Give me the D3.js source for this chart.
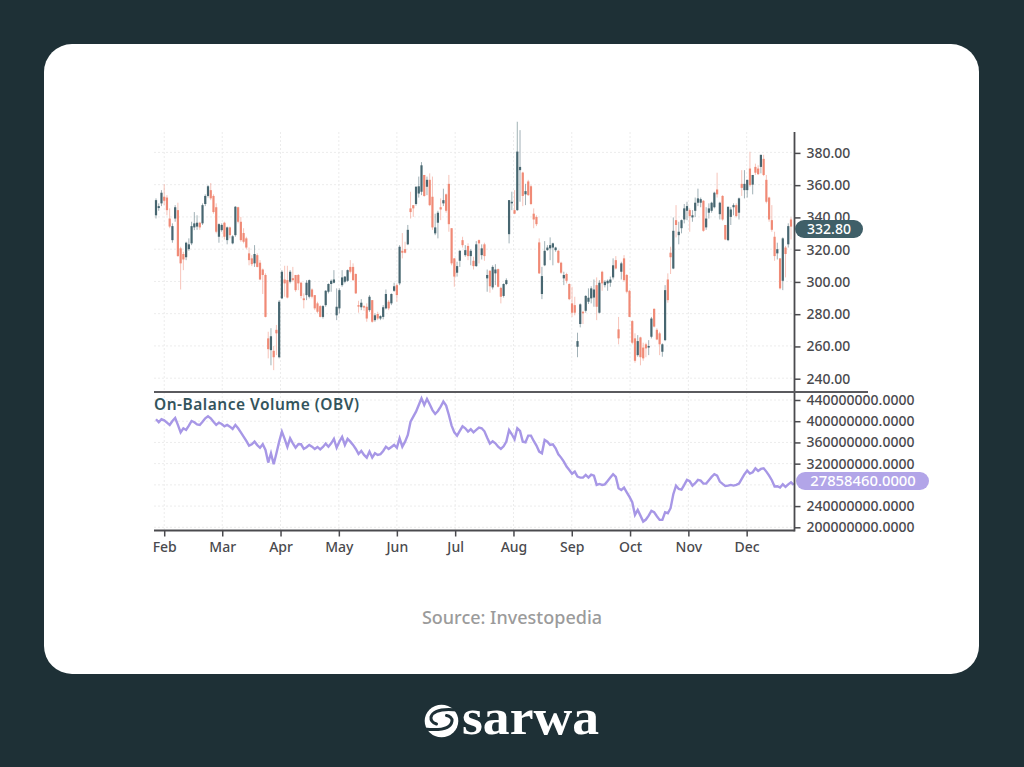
<!DOCTYPE html>
<html>
<head>
<meta charset="utf-8">
<script src="https://cdn.jsdelivr.net/npm/d3@7"></script>
<style>
    html, body { margin: 0; padding: 0; background: #1e3036; }
    svg { display: block; }
    text { font-family: "Noto Sans", sans-serif; }
</style>
</head>
<body>
<div id="chart"></div>
<script>
const highs = [
    351.5,348.4,356.6,360.3,353.5,345.3,336,347.3,348.8,321.5,
    318.4,324.6,326.7,337,343,341,337,348.4,354,359.7,
    361,354,348.4,336,336,337,334,334,328.7,346.7,
    346.3,340,333,327.7,321,316.3,322.5,317.4,313.2,308,
    305,268.8,271,260,273,288.4,307,309.7,309.7,307,
    309,304,304.6,299.8,292.6,300.8,301.2,295.7,291.5,287.4,
    285.3,285.3,294.6,298.8,301.2,307,295.7,295.7,307,303.3,
    307.4,313.2,311.2,305,288,289,285.3,286.4,291.5,288.4,
    280.2,281.2,279,285.3,295,288.4,292.6,299.2,298.8,322.5,
    330,324.6,335,355.6,347.3,359,365,374,366,365,
    367,365,342,343.8,351.5,357.5,354.5,366,333,314.3,
    312.2,319.4,327.7,322.5,323.6,320,315.3,325,326,323,
    324,307.4,307,310,310.7,308,296.7,298.8,301.9,350.4,
    355.6,356.6,399,393.8,368,360.5,363,359.7,345.3,341,
    326.7,309,325,322.5,327.3,324,321.5,319.4,312.2,306,
    305.4,298.8,296.7,290.5,268.2,286.4,281.8,291.5,295.7,297,
    301.2,302.5,300.8,306.6,300.8,301.2,303,314.3,315.7,278,
    312.2,316.3,304.6,294.6,276,267.8,266.7,265.7,262,262,
    263.6,278,283.3,271,268.8,261.6,297.7,305,321.5,339.7,
    347.3,337,338.4,348,349.4,345.3,344.2,352,357.5,352,
    350.4,346,348.4,349.4,355.6,367.4,349.4,353.5,335,346.3,
    346,348.4,348.4,352,369,369,363,380.4,366,373,
    372,378.5,378.5,366,352.5,347.3,330.8,324,314.3,327.3,
    322,336,339.7
];
const lows = [
    339,343.8,346.7,347.3,341,333,324,337,315.3,295,
    307,313.2,319,322.5,331.8,332,332,335,346.7,352,
    350.4,342,329.8,324,330.8,326,323,326.7,323,327.7,
    336,324.6,323.6,320,310,309.5,309,308.7,300.8,292.2,
    277.7,252.3,248,245,254.3,252.3,289,290.5,289.5,298.8,
    299.8,293.6,294.6,289.5,283.3,288.4,289.5,289.5,282.2,280.2,
    277.7,277,284.3,292.6,293.6,298.8,276,280.2,296.7,298.8,
    299.8,305,300.4,292.2,280.6,282.2,281.8,275,281.2,274.4,
    275,276,276,276.5,282.7,282.2,285.3,293.6,287.4,297.7,
    314.3,317.4,322.5,339,340,347,352,353.5,352.5,353.5,
    346.7,332,328.7,326.7,338,346.7,342.6,330.8,310,296.7,
    303,309,321,315.3,313.2,310,307.4,309,311.2,313.6,
    312.8,293.6,293,295,297.7,296.3,286.4,290,297.7,323.6,
    344.2,341.7,343.8,349.4,346.7,347.3,353,347.3,333,334.3,
    304.6,289,309.5,319,313.2,310,318.4,311.2,304.6,297.7,
    298.8,288.4,278,279,253,271.5,273.6,280.6,286,286.4,
    284.3,276,280.2,294.2,296.3,294.2,296.7,301.2,307.4,261,
    301.2,299.8,292.6,278,261,249.6,253.3,248,250.8,253,
    254.3,264.7,271.5,263.6,254.3,253.3,263,286.8,304.6,307.6,
    327.3,323,329.8,336,338,330.8,337,340,346.7,346,
    330.8,332,339,342.6,345.3,352,338.4,337.6,325.6,325,
    335,341,339.7,338.4,353,351.5,352,358.7,354,366,
    366,367,365.3,348.4,337,330.8,312.8,313.6,295,294.6,
    302.5,321,326
];
const opens = [
    341,345.5,348.4,352.5,352,339,325.6,339,344.2,320.5,
    317,315,320,323.6,333.5,334,336.4,336,348,353,
    356.6,353,346,327.7,331.8,336.4,325.6,333.5,323.6,328.7,
    346,337,330,326.7,317.4,314.3,311.2,316.3,311.6,307.4,
    304,264.7,257.4,257,270,253,289.5,301.2,300.8,299.8,
    302,304,304,299.2,289.5,291.5,290.5,295,291.5,286.4,
    284.7,278,285.3,293.6,298.4,299.2,279,283.3,297.7,299.8,
    300.4,309,309,304.6,285.3,284,284.7,284.3,282.2,288.4,
    276,279.8,277,278,283.3,287.4,286.4,294.2,297.7,298.8,
    319,320,323,345.3,347.3,348,354.5,355.6,366,358.7,
    363,352.5,329.8,336.4,346,348.4,354,360.5,333,314.3,
    305.4,312.8,325.6,316.3,322,315.7,312.8,309.5,325.6,316.3,
    323,301.9,306.6,296.3,305,307.6,296,291,298.4,329.3,
    348.4,344.2,344.2,369,367.5,354,362,359,342,340,
    324.2,292.2,310,319.4,320.5,321,319.4,319,311.6,301.9,
    304.6,298.4,286.4,285.3,259.5,273.6,281.2,281.8,287.4,289.5,
    290,297.7,280.6,306,297.7,298.8,299.2,302.5,313.2,270.3,
    306,314.3,304,294.2,275.4,264.7,254.3,265.3,259,261,
    259,265.7,283,270,267.8,256.4,263.6,301.2,317.8,308,
    338,328.7,333,338.4,343.8,344.2,339.7,343.8,348.8,348.8,
    350,333.5,342.6,343.8,346,357,341.7,353,335,325.6,
    340,346,347.3,342.6,360.5,356.6,356.6,370,360,371,
    370,371,376,363,352,338,327.7,317.4,314.3,300.4,
    321,323,338.4
];
const closes = [
    350.4,346.7,355,350,344.2,334,334.3,346,315.7,311.2,
    313.6,324,323,334.3,336,336.4,333.5,347.3,353,359,
    351.5,343,330.8,335.5,335,327.7,333.5,328.7,328,346.3,
    337,325.6,324.6,321,313.2,310.7,317,309,301.2,304,
    278,258,266,253,267.8,287.4,306,298.8,290,306,
    300.8,294.6,298.8,291,288.4,299.2,300.8,290.5,283.3,281.2,
    278,284.7,294.2,298.4,300.4,301.2,284.3,294.6,302.5,303,
    307,306,300.8,292.6,284.7,286.8,284,277,290.5,275,
    279,277,278.5,284,292.2,283.3,292.2,297,291.5,321.5,
    317.8,317.8,332,343,345.3,358.7,359,372,353,363,
    347.3,333.5,333.5,342.6,344.6,350.4,343.8,335.5,311.2,303,
    309.5,319,322.5,319.4,315.7,319,309.5,323,323.6,320.5,
    315.7,304,297,309,307.4,296.7,290.5,298.4,300.8,350.4,
    349.4,342,380.5,371,353,356,353.5,348,338.4,335.5,
    305,303.3,319,321,322.5,323.6,321,311.6,305.4,304,
    300.4,289,280.6,280.6,263,285.8,280.2,291,289.9,295.7,
    295,284.3,299.2,298.8,299.8,300.4,301.2,310,308,264.7,
    311.2,300.8,293.6,278,262,250.8,263,253,252.3,258.5,
    260,277,272,264,261,261,294.6,288.4,315,331.4,
    335,330.8,338,345.3,346.7,340.5,341,348.8,351.5,351,
    331.4,339,345.3,348.8,355,354,348.8,338.4,326,346.3,
    344.6,347.3,340.5,351.5,358,360.5,363,359.7,366,367.4,
    366.5,378.5,366,349.4,338.4,332,315.7,320,295.7,326.7,
    317,334.3,334
];
// OBV in millions, one value per bar
const obv = [
    403.6,398,404,401.7,397.3,393,400.5,406,393,379,
    386.7,383.5,391.7,400.5,398,394,393,399,405.5,409.3,
    405.5,399,393,397.3,394.8,390.4,393,389.8,385.4,393,
    386.7,379,371,362.8,354,356.5,361.5,355,350,356.5,
    345.8,322,339.6,318.8,339.6,361.5,380.4,366.6,351.5,367.8,
    358.4,350,356.5,356.5,347.7,350.9,355.3,352,347.7,351.5,
    347,351.5,357.8,352,358.4,366.6,350,361.5,370.3,355.3,
    366.6,361.5,355.3,347.7,338.3,344,336.4,331.4,342.7,331.4,
    339.6,336.4,337.7,344,352,347.7,351.5,355.3,350,367.8,
    352,361.5,374,399,408.6,418,430.6,443,430.6,442,
    431.9,421,413.7,419.3,427.5,436.9,429.4,411.8,391.7,379,
    372.8,381.6,390.4,386.7,380.4,384.8,379,383.5,387.9,386.7,
    381,369,357.8,362,358.4,352,347.7,352.7,361.5,383.5,
    375.4,366,386.7,381.6,361.5,360.3,372.8,372.8,362.8,354,
    342.7,339.6,364.7,361.5,355.3,356.5,349,337.7,331.4,323.9,
    314.4,308,301,305,295.6,293.7,293.7,298.7,293.7,299.4,
    297.5,279.9,281.8,279.9,281,287.4,293.7,300,295,273.6,
    270.5,274.9,266,257.3,247.2,223.4,232.8,222,210.8,214.6,
    222,230.9,228.4,220.9,214,214,228.4,226.5,236,262.3,
    278.6,272.4,271,279.9,289.3,286.8,278.6,283,289.3,288,
    282.4,282.4,288.7,295,300,297.5,286.2,281.8,278,278.6,
    279.9,278.6,279.9,282.4,291.2,300,306.9,301.3,303.8,311.3,
    306.3,310,311.3,305,297.5,288.7,276.8,277.4,274.9,281,
    276.1,281,284.9,279.9
];
const months = ["Feb", "Mar", "Apr", "May", "Jun", "Jul", "Aug", "Sep", "Oct", "Nov", "Dec"];
const monthBars = [3, 24.2, 45.5, 66.8, 88, 109.3, 130.6, 151.9, 173.2, 194.5, 215.8];
const priceTicks = [240, 260, 280, 300, 320, 340, 360, 380];
const obvGrid = [200, 240, 280, 320, 360, 400, 440];
// the 280M label sits behind the last value pill in the picture
const obvTicks = [200, 240, 320, 360, 400, 440];
const lastPrice = "332.80";
const lastObv = "27858460.0000";

const width = 1024;
const height = 767;
const axisX = 794.5;
const upColor = "#466670";
const downColor = "#f08a76";
const inkColor = "#4a4a4e";
const bgColor = "#1e3036";

const svg = d3.select("#chart")
    .append("svg")
    .attr("width", width)
    .attr("height", height);

svg.append("defs").append("filter")
    .attr("id", "soft")
    .append("feGaussianBlur")
    .attr("stdDeviation", 0.45);

svg.append("rect")
    .attr("width", width)
    .attr("height", height)
    .attr("fill", bgColor);

svg.append("rect")
    .attr("x", 44)
    .attr("y", 44)
    .attr("width", 935)
    .attr("height", 630)
    .attr("rx", 28)
    .attr("fill", "#ffffff");

const xScale = d3.scaleLinear().domain([0, highs.length - 1]).range([156, 791]);
const yPrice = d3.scaleLinear().domain([240, 380]).range([378.2, 152.4]);
const yObv = d3.scaleLinear().domain([200, 440]).range([527.3, 400]);

// grid
const grid = svg.append("g")
    .attr("stroke", "#ececec")
    .attr("stroke-width", 1)
    .attr("stroke-dasharray", "2,2");

grid.selectAll("line.price")
    .data(priceTicks)
    .enter()
    .append("line")
    .attr("x1", 154)
    .attr("x2", axisX)
    .attr("y1", d => yPrice(d))
    .attr("y2", d => yPrice(d));

grid.selectAll("line.obv")
    .data(obvGrid)
    .enter()
    .append("line")
    .attr("x1", 154)
    .attr("x2", axisX)
    .attr("y1", d => yObv(d))
    .attr("y2", d => yObv(d));

grid.selectAll("line.month")
    .data(monthBars)
    .enter()
    .append("line")
    .attr("x1", d => xScale(d))
    .attr("x2", d => xScale(d))
    .attr("y1", 132)
    .attr("y2", 530);

// candles
const candles = svg.append("g").attr("filter", "url(#soft)");
const bars = d3.range(highs.length);

candles.selectAll("line")
    .data(bars)
    .enter()
    .append("line")
    .attr("x1", i => xScale(i))
    .attr("x2", i => xScale(i))
    .attr("y1", i => yPrice(highs[i]))
    .attr("y2", i => yPrice(lows[i]))
    .attr("stroke", i => closes[i] >= opens[i] ? upColor : downColor)
    .attr("stroke-opacity", 0.5)
    .attr("stroke-width", 1);

candles.selectAll("rect")
    .data(bars)
    .enter()
    .append("rect")
    .attr("x", i => xScale(i) - 1.1)
    .attr("width", 2.2)
    .attr("y", i => yPrice(Math.max(opens[i], closes[i])))
    .attr("height", i => Math.max(1.5, Math.abs(yPrice(opens[i]) - yPrice(closes[i]))))
    .attr("fill", i => closes[i] >= opens[i] ? upColor : downColor);

// OBV line
const obvLine = d3.line()
    .x((d, i) => xScale(i))
    .y(d => yObv(d));

svg.append("path")
    .datum(obv)
    .attr("d", obvLine)
    .attr("fill", "none")
    .attr("stroke", "#a797e6")
    .attr("stroke-width", 2.4)
    .attr("stroke-linejoin", "miter")
    .style("filter", "blur(0.25px)");

// axes
const priceAxis = d3.axisRight(yPrice)
    .tickValues(priceTicks)
    .tickFormat(d => d.toFixed(2))
    .tickSize(6)
    .tickPadding(6);

const obvAxis = d3.axisRight(yObv)
    .tickValues(obvTicks)
    .tickFormat(d => (d * 1000000).toFixed(4))
    .tickSize(6)
    .tickPadding(6);

const monthAxis = d3.axisBottom(xScale)
    .tickValues(monthBars)
    .tickFormat((d, i) => months[i])
    .tickSize(6)
    .tickPadding(6);

function styleAxis(g) {
    g.select(".domain").remove();
    g.selectAll(".tick line").attr("stroke", inkColor).attr("stroke-width", 1.5);
    g.selectAll(".tick text")
        .attr("fill", inkColor)
        .attr("font-family", '"Noto Sans", sans-serif')
        .attr("font-size", 14)
        .attr("font-weight", 500);
}

svg.append("g")
    .attr("transform", "translate(" + axisX + ",0.5)")
    .call(priceAxis)
    .call(styleAxis);

svg.append("g")
    .attr("transform", "translate(" + axisX + ",0)")
    .call(obvAxis)
    .call(styleAxis);

svg.append("g")
    .attr("transform", "translate(0,530.5)")
    .call(monthAxis)
    .call(styleAxis);

// frame lines
svg.append("line")
    .attr("x1", axisX).attr("x2", axisX)
    .attr("y1", 132).attr("y2", 531.5)
    .attr("stroke", inkColor).attr("stroke-width", 1.8);
svg.append("line")
    .attr("x1", 154).attr("x2", axisX)
    .attr("y1", 530.5).attr("y2", 530.5)
    .attr("stroke", inkColor).attr("stroke-width", 1.8);
svg.append("line")
    .attr("x1", 154).attr("x2", 868)
    .attr("y1", 392).attr("y2", 392)
    .attr("stroke", "#5a5a5e").attr("stroke-width", 1.8);

svg.append("text")
    .attr("x", 154)
    .attr("y", 409.5)
    .attr("fill", "#33545c")
    .attr("font-size", 15.5)
    .attr("font-weight", 600)
    .attr("letter-spacing", 0.5)
    .text("On-Balance Volume (OBV)");

// last value pills
svg.append("rect")
    .attr("x", 795).attr("y", 220)
    .attr("width", 68).attr("height", 18)
    .attr("rx", 9)
    .attr("fill", "#3f5f68");
svg.append("text")
    .attr("x", 829).attr("y", 234)
    .attr("text-anchor", "middle")
    .attr("fill", "#ffffff")
    .attr("font-size", 14)
    .attr("font-weight", 500)
    .text(lastPrice);

svg.append("rect")
    .attr("x", 796).attr("y", 472)
    .attr("width", 133).attr("height", 18)
    .attr("rx", 9)
    .attr("fill", "#b2a5e8");
svg.append("text")
    .attr("x", 863).attr("y", 486)
    .attr("text-anchor", "middle")
    .attr("fill", "#ffffff")
    .attr("font-size", 14.8)
    .attr("font-weight", 500)
    .text(lastObv);

svg.append("text")
    .attr("x", 512)
    .attr("y", 624)
    .attr("text-anchor", "middle")
    .attr("fill", "#9b9b9b")
    .attr("font-size", 18)
    .attr("font-weight", 500)
    .text("Source: Investopedia");

// logo
const logo = svg.append("g").attr("transform", "translate(441.5,721)");
logo.append("ellipse")
    .attr("rx", 16.8)
    .attr("ry", 16.3)
    .attr("fill", "#ffffff");
logo.append("path")
    .attr("d", "M17,-11 C8,-12 -8,-13 -10.5,-4 C-11,0 -8,2 -5,3")
    .attr("fill", "none")
    .attr("stroke", bgColor)
    .attr("stroke-width", 3)
    .attr("stroke-linecap", "round");
logo.append("path")
    .attr("d", "M-17,8 C-8,9 9,10 10.5,0 C11,-3 8,-5 5,-5.5")
    .attr("fill", "none")
    .attr("stroke", bgColor)
    .attr("stroke-width", 3)
    .attr("stroke-linecap", "round");
svg.append("text")
    .attr("x", 462)
    .attr("y", 734)
    .attr("fill", "#ffffff")
    .attr("font-size", 50)
    .attr("font-weight", 700)
    .attr("textLength", 137)
    .attr("lengthAdjust", "spacingAndGlyphs")
    .style("font-family", '"Liberation Serif", serif')
    .text("sarwa");
</script>
</body>
</html>
